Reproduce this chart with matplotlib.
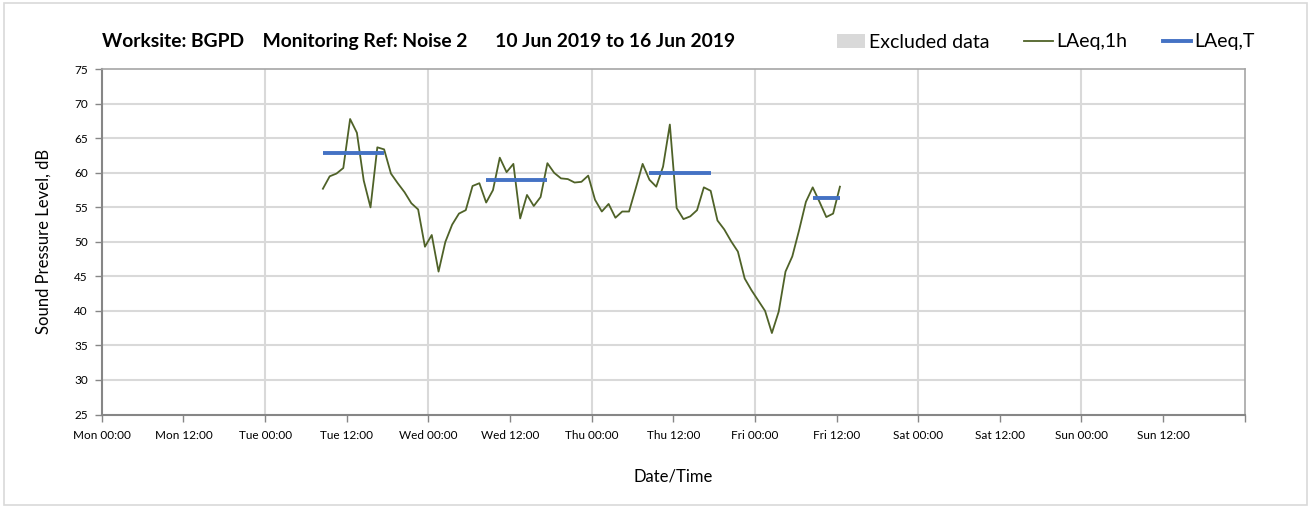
import numpy as np
import pandas as pd
import matplotlib

matplotlib.use("Agg")
from matplotlib import pyplot as plt
import matplotlib.dates as mdates
from matplotlib.lines import Line2D
from matplotlib.patches import Patch, Rectangle
from matplotlib.ticker import FuncFormatter

plt.rcParams['font.family'] = ['Lato', 'DejaVu Sans']

# hourly LAeq,1h values, first reading Tue 11 Jun 2019 08:30
first_reading = '2019-06-11 08:30'
laeq_1h = [57.7, 59.5, 59.9, 60.7, 67.8, 65.8, 58.9, 55.0, 63.7, 63.4,
           59.9, 58.5, 57.2, 55.6, 54.7, 49.3, 51.0, 45.7, 50.0, 52.5,
           54.1, 54.6, 58.1, 58.5, 55.7, 57.5, 62.2, 60.1, 61.3, 53.4,
           56.8, 55.2, 56.5, 61.4, 60.0, 59.2, 59.1, 58.6, 58.7, 59.6,
           56.1, 54.4, 55.5, 53.5, 54.4, 54.4, 57.8, 61.3, 59.0, 58.0,
           60.9, 67.0, 54.9, 53.3, 53.7, 54.6, 57.9, 57.4, 53.1, 51.8,
           50.1, 48.6, 44.7, 43.0, 41.5, 40.0, 36.8, 39.9, 45.7, 47.9,
           51.7, 55.8, 57.9, 55.8, 53.6, 54.1, 58.0]

# LAeq,T periods
period_start = ['2019-06-11 08:30', '2019-06-12 08:30', '2019-06-13 08:30', '2019-06-14 08:30']
period_end = ['2019-06-11 17:30', '2019-06-12 17:30', '2019-06-13 17:30', '2019-06-14 12:30']
laeq_t = [62.9, 58.9, 60.0, 56.3]

week_start = pd.Timestamp('2019-06-10')
week_end = pd.Timestamp('2019-06-17')

times = pd.date_range(first_reading, periods=len(laeq_1h), freq='h')

W, H = 1309, 508
fig = plt.figure(figsize=(W / 100, H / 100), dpi=100)
fig.patches.append(Rectangle((4 / W, 3 / H), 1303 / W, 502 / H, transform=fig.transFigure,
                             fill=False, edgecolor='#d9d9d9', linewidth=1.2))

left, right, top, bottom = 101.8, 1244.7, 69.3, 414.5
ax = fig.add_axes([left / W, 1 - bottom / H, (right - left) / W, (bottom - top) / H])

green = '#4f6228'
blue = '#4472c4'
ax.plot(times, laeq_1h, color=green, linewidth=1.3, zorder=3)
for s, e, v in zip(period_start, period_end, laeq_t):
    ax.plot([pd.Timestamp(s), pd.Timestamp(e)], [v, v], color=blue, linewidth=2.8,
            solid_capstyle='butt', zorder=4)

ax.set_xlim(week_start, week_end)
ax.set_ylim(25, 75)
ax.set_yticks(np.arange(25, 76, 5))
ax.xaxis.set_major_locator(mdates.HourLocator(byhour=[0, 12]))
end_num = mdates.date2num(week_end)


def fmt_time(x, pos):
    if abs(x - end_num) < 1e-6:
        return ''
    return mdates.num2date(x).strftime('%a %H:%M')


ax.xaxis.set_major_formatter(FuncFormatter(fmt_time))

ax.grid(False)
for d in pd.date_range('2019-06-11', '2019-06-16', freq='D'):
    ax.axvline(d, color='#d9d9d9', linewidth=1.5, zorder=1)
for y in np.arange(30, 75, 5):
    ax.axhline(y, color='#d9d9d9', linewidth=1.5, zorder=1)

for side in ['left', 'bottom']:
    ax.spines[side].set_color('#868686')
    ax.spines[side].set_linewidth(1.5)
for side in ['top', 'right']:
    ax.spines[side].set_color('#a6a6a6')
    ax.spines[side].set_linewidth(1.2)

ax.tick_params(axis='both', colors='#868686', labelcolor='#000000', labelsize=8.5,
               length=5, width=1, direction='out')
ax.tick_params(axis='y', pad=5)
ax.tick_params(axis='x', pad=6)

ax.set_ylabel('Sound Pressure Level, dB', fontsize=12, labelpad=16)
ax.set_xlabel('Date/Time', fontsize=12, labelpad=20)

fig.text(left / W, 1 - 41 / H, 'Worksite: BGPD    Monitoring Ref: Noise 2      10 Jun 2019 to 16 Jun 2019',
         fontsize=13.9, fontweight='bold', va='center', ha='left')

handles = [Patch(facecolor='#d9d9d9', edgecolor='none', label='Excluded data'),
           Line2D([], [], color=green, linewidth=1.3, label='LAeq,1h'),
           Line2D([], [], color=blue, linewidth=2.8, label='LAeq,T')]
fig.legend(handles=handles, loc='center right', bbox_to_anchor=(1255 / W, 1 - 42 / H), ncol=3,
           frameon=False, fontsize=14, handlelength=1.45, handletextpad=0.2,
           columnspacing=1.8, borderaxespad=0, borderpad=0)

fig.savefig('out.png', dpi=100)
